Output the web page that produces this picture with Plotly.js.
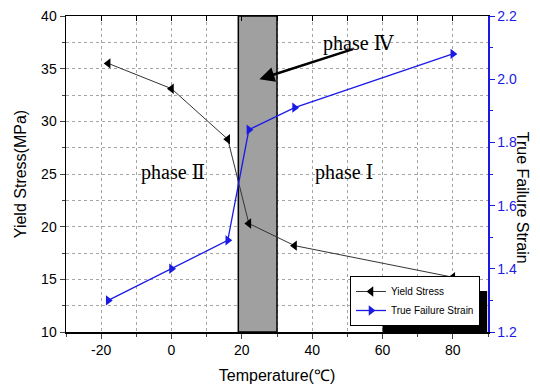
<!DOCTYPE html>
<html><head><meta charset="utf-8">
<script src="https://cdn.plot.ly/plotly-3.0.1.min.js"></script>
<style>html,body{margin:0;padding:0;background:#fff}</style>
</head><body><div id="chart" style="width:540px;height:385px"></div>
<script>
const temperature = [-18, 0, 16, 22, 35, 80];
const yieldStress = [35.5, 33.1, 28.3, 20.3, 18.2, 15.2];
const failureStrain = [1.30, 1.40, 1.49, 1.84, 1.91, 2.08];
const xTickVals = [-20, 0, 20, 40, 60, 80];
const xTickText = ['-20', '0', '20', '40', '60', '80'];
const leftTickVals = [10, 15, 20, 25, 30, 35, 40];
const rightTickVals = [1.2, 1.4, 1.6, 1.8, 2.0, 2.2];
const phaseBand = [19, 30];
const seriesNames = ['Yield Stress', 'True Failure Strain'];

const BLUE = '#1a1ae6';
const GRID = '#a6a6a6';
const traces = [
  {x: temperature, y: yieldStress, name: seriesNames[0], type: 'scatter', mode: 'lines+markers',
   line: {color: '#333333', width: 1}, marker: {symbol: 'triangle-left', size: 9, color: '#000'}},
  {x: temperature, y: failureStrain, name: seriesNames[1], type: 'scatter', mode: 'lines+markers', yaxis: 'y2',
   line: {color: BLUE, width: 1.3}, marker: {symbol: 'triangle-right', size: 9, color: BLUE}},
  {x: [], y: [], xaxis: 'x2', yaxis: 'y', showlegend: false, hoverinfo: 'skip', type: 'scatter'}
];

const layout = {
  width: 540, height: 385,
  margin: {l: 66, r: 52, t: 16, b: 53},
  paper_bgcolor: '#fff', plot_bgcolor: '#fff',
  font: {family: 'Liberation Sans, Arial, sans-serif', color: '#000', size: 14},
  showlegend: true,
  legend: {x: 0.981, y: 0.019, xanchor: 'right', yanchor: 'bottom', bgcolor: '#fff',
           bordercolor: '#000', borderwidth: 1, font: {size: 10}, tracegroupgap: 0, itemwidth: 30},
  xaxis: {range: [-30, 90], tickvals: xTickVals, ticktext: xTickText, ticks: 'outside', ticklen: 5,
    showline: true, linecolor: '#000', linewidth: 1.5, mirror: true, zeroline: false,
    showgrid: true, gridcolor: GRID, gridwidth: 1, griddash: 'dot',
    minor: {dtick: 10, tick0: -30, ticks: 'outside', ticklen: 3, showgrid: true, gridcolor: GRID, griddash: 'dot'},
    title: {text: 'Temperature(\u2103)', font: {size: 16}, standoff: 12}},
  xaxis2: {overlaying: 'x', side: 'top', range: [-30, 90], tickmode: 'linear', dtick: 10, tick0: -30,
    ticks: 'inside', ticklen: 5, tickwidth: 1, tickcolor: '#000',
    showticklabels: false, showgrid: false, zeroline: false, showline: false},
  yaxis: {range: [10, 40], tickvals: leftTickVals, ticks: 'outside', ticklen: 5,
    showline: true, linecolor: '#000', linewidth: 1.5, zeroline: false,
    showgrid: true, gridcolor: GRID, gridwidth: 1, griddash: 'dot',
    minor: {dtick: 2.5, tick0: 10, ticks: 'outside', ticklen: 3, showgrid: true, gridcolor: GRID, griddash: 'dot'},
    title: {text: 'Yield Stress(MPa)', font: {size: 16}, standoff: 10}},
  yaxis2: {overlaying: 'y', side: 'right', range: [1.2, 2.2], tickvals: rightTickVals, tickformat: '.1f',
    ticks: 'outside', ticklen: 5, tickcolor: BLUE, showline: true, linecolor: BLUE, linewidth: 1.5,
    tickfont: {color: BLUE, size: 14}, showgrid: false, zeroline: false,
    minor: {dtick: 0.1, tick0: 1.2, ticks: 'outside', ticklen: 3, tickcolor: BLUE}},
  shapes: [
    {type: 'rect', xref: 'x', yref: 'y', x0: phaseBand[0], x1: phaseBand[1], y0: 10, y1: 40,
     fillcolor: '#a0a0a0', line: {color: '#000', width: 1.5}, layer: 'between'},
    {type: 'rect', xref: 'paper', yref: 'paper', x0: 0.75, x1: 0.998, y0: 0.0, y1: 0.13,
     fillcolor: '#000', line: {width: 0}, layer: 'above'}
  ],
  annotations: [
    {text: 'phase \u2161', x: 0.5, y: 25.1, xref: 'x', yref: 'y', showarrow: false,
     font: {family: 'Liberation Serif, DejaVu Serif, serif', size: 20, color: '#000'}},
    {text: 'phase \u2160', x: 49, y: 25.1, xref: 'x', yref: 'y', showarrow: false,
     font: {family: 'Liberation Serif, DejaVu Serif, serif', size: 20, color: '#000'}},
    {text: 'phase \u2163', x: 53.3, y: 37.4, xref: 'x', yref: 'y', showarrow: false,
     font: {family: 'Liberation Serif, DejaVu Serif, serif', size: 20, color: '#000'}},
    {text: '', x: 25, y: 34.0, xref: 'x', yref: 'y', ax: 52, ay: 36.9, axref: 'x', ayref: 'y',
     showarrow: true, arrowhead: 2, arrowsize: 1.2, arrowwidth: 2.5, arrowcolor: '#000'},
    {text: 'True Failure Strain', textangle: 90, xref: 'paper', yref: 'paper', x: 1.107, y: 0.426,
     showarrow: false, font: {size: 16, color: '#000'}}
  ]
};
Plotly.newPlot('chart', traces, layout, {displayModeBar: false, staticPlot: true});
</script></body></html>
